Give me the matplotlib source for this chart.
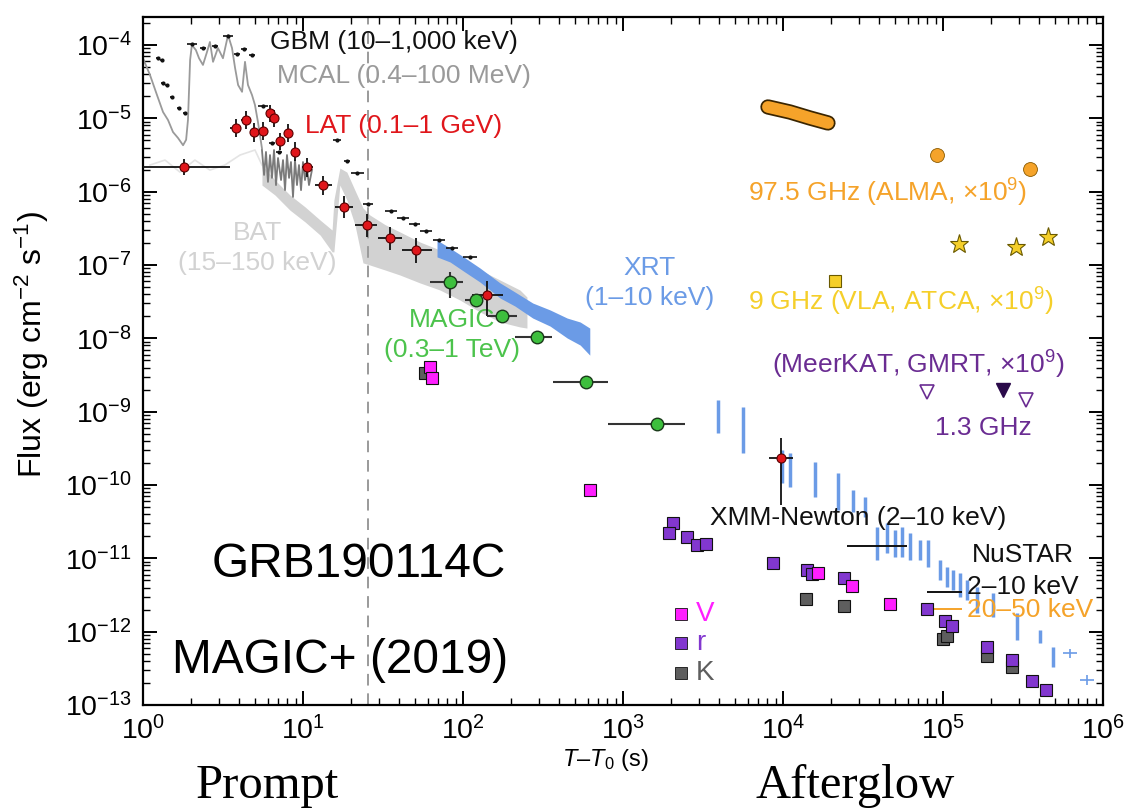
import numpy as np
import matplotlib
matplotlib.use("Agg")
import matplotlib.pyplot as plt
from matplotlib.ticker import LogLocator, NullFormatter, FixedLocator, LogFormatterSciNotation

plt.rcParams['font.family'] = ['Liberation Sans', 'DejaVu Sans']
plt.rcParams['mathtext.fontset'] = 'custom'
plt.rcParams['mathtext.rm'] = 'Liberation Sans'
plt.rcParams['mathtext.it'] = 'Liberation Sans:italic'
plt.rcParams['mathtext.default'] = 'regular'

# ---------------- data ----------------
# Fermi-LAT (0.1-1 GeV)
lat_t = [1.8, 3.8, 4.4, 4.94, 5.6, 6.2, 6.6, 7.2, 8.05, 8.9, 10.6, 13.3, 18.0, 25.0, 35.0, 51.0, 141.0, 9700.0]
lat_f = [2.2e-6, 7.4e-6, 9.5e-6, 6.5e-6, 6.7e-6, 1.17e-5, 1.0e-5, 4.9e-6, 6.3e-6, 3.5e-6,
         2.2e-6, 1.23e-6, 6.2e-7, 3.5e-7, 2.35e-7, 1.6e-7, 3.9e-8, 2.3e-10]
lat_tlo = [1.0, 3.5, 4.1, 4.7, 5.2, 6.0, 6.4, 6.9, 7.6, 8.5, 9.8, 11.9, 15.8, 21.1, 29.5, 41.5, 114.0, 8200.0]
lat_thi = [3.5, 4.1, 4.7, 5.2, 6.0, 6.4, 6.9, 7.6, 8.5, 9.5, 11.6, 15.2, 20.5, 29.0, 41.5, 64.0, 178.0, 11500.0]
lat_flo = [1.7e-6, 5.5e-6, 7.2e-6, 4.8e-6, 5.0e-6, 8.8e-6, 7.6e-6, 3.7e-6, 4.7e-6, 2.6e-6,
           1.6e-6, 9.0e-7, 4.4e-7, 2.4e-7, 1.6e-7, 1.05e-7, 2.0e-8, 5.3e-11]
lat_fhi = [2.8e-6, 9.8e-6, 1.25e-5, 8.6e-6, 8.8e-6, 1.5e-5, 1.3e-5, 6.4e-6, 8.3e-6, 4.7e-6,
           2.9e-6, 1.65e-6, 8.6e-7, 5.0e-7, 3.3e-7, 2.3e-7, 6.0e-8, 4.4e-10]

# Fermi-GBM (10-1,000 keV) binned points
gbm_t = [1.24, 1.31, 1.33, 1.41, 1.52, 1.68, 1.83, 2.02, 2.37, 2.82, 3.4, 3.87, 4.28, 4.8,
         5.62, 6.4, 7.08, 16.3, 18.8, 21.8, 25.5, 35.5, 42.2, 50.0, 58.7, 70.8, 85.3, 110.6]
gbm_f = [6.65e-5, 6.25e-5, 3.03e-5, 2.85e-5, 1.95e-5, 1.38e-5, 1.18e-5, 1.03e-4, 9.1e-5, 9.7e-5,
         1.33e-4, 7.55e-5, 8.8e-5, 7.3e-5, 1.48e-5, 4.6e-6, 3.5e-6, 5.1e-6, 2.6e-6, 1.8e-6,
         6.8e-7, 5.45e-7, 4.4e-7, 3.6e-7, 2.9e-7, 2.2e-7, 1.7e-7, 1.29e-7]
gbm_dt = [0.01, 0.01, 0.01, 0.01, 0.012, 0.015, 0.015, 0.03, 0.02, 0.02, 0.03, 0.02, 0.02, 0.02,
          0.03, 0.02, 0.02, 0.025, 0.02, 0.04, 0.03, 0.035, 0.035, 0.035, 0.035, 0.04, 0.04, 0.045]

# AGILE-MCAL (0.4-100 MeV) light curve
mcal_t = [1.0, 1.106, 1.223, 1.334, 1.433, 1.54, 1.655, 1.78, 1.86, 1.91, 1.97, 2.02, 2.14, 2.24,
          2.37, 2.51, 2.62, 2.74, 2.94, 3.16, 3.40, 3.60, 3.76, 3.93, 4.16, 4.34, 4.53, 4.80,
          5.01, 5.23, 5.54]
mcal_f = [6.6e-5, 3.9e-5, 2.08e-5, 1.22e-5, 9.5e-6, 6.5e-6, 5.4e-6, 4.3e-6, 5.1e-6, 9.5e-6,
          6.25e-5, 1.0e-4, 8.55e-5, 6.6e-5, 5.35e-5, 8.0e-5, 1.1e-4, 5.9e-5, 9.1e-5, 6.6e-5,
          1.37e-4, 9.1e-5, 4.9e-5, 2.85e-5, 2.3e-5, 5.9e-5, 2.85e-5, 2.08e-5, 1.52e-5, 8.9e-6, 3.9e-6]

# GBM light curve (noisy dark trace)
gbmlc_t = [5.54, 5.71, 5.87, 6.04, 6.22, 6.40, 6.59, 6.78, 6.98, 7.29, 7.50, 7.72, 7.94, 8.18,
           8.41, 8.66, 8.91, 9.17, 9.44, 9.72, 10.0, 10.29, 10.59, 10.9, 11.38]
gbmlc_f = [3.7e-6, 1.69e-6, 3.48e-6, 1.36e-6, 3.16e-6, 1.54e-6, 3.7e-6, 1.23e-6, 2.88e-6, 1.44e-6,
           2.7e-6, 1.05e-6, 3.16e-6, 1.54e-6, 2.54e-6, 8.47e-7, 2.7e-6, 1.23e-6, 2.31e-6, 1.05e-6,
           2.54e-6, 1.44e-6, 2.1e-6, 1.23e-6, 1.98e-6]

# Swift-BAT (15-150 keV)
bat_early_t = [1.106, 1.373, 1.70, 2.11, 2.62, 3.25, 4.04, 5.01, 5.54]
bat_early_f = [2.31e-6, 2.7e-6, 1.85e-6, 2.7e-6, 1.97e-6, 2.31e-6, 3.16e-6, 3.7e-6, 2.31e-6]
bat_t = [5.54, 6.68, 8.29, 10.3, 12.8, 15.2, 15.6, 17.0, 18.8, 21.1, 23.7, 26.2, 32.6, 40.4,
         53.8, 71.8, 95.7, 127.7, 170.4, 227.0, 251.0]
bat_hi = [2.31e-6, 1.44e-6, 9.0e-7, 6.2e-7, 4.1e-7, 3.0e-7, 7.7e-7, 2.1e-6, 1.85e-6, 1.05e-6,
          6.0e-7, 4.8e-7, 3.55e-7, 2.82e-7, 2.06e-7, 1.6e-7, 1.1e-7, 8.55e-8, 6.24e-8, 4.56e-8, 3.66e-8]
bat_lo = [1.23e-6, 9.0e-7, 5.6e-7, 3.87e-7, 2.56e-7, 1.51e-7, 1.51e-7, 1.23e-6, 7.7e-7, 3.55e-7,
          1.07e-7, 1.0e-7, 8.55e-8, 7.3e-8, 5.7e-8, 4.56e-8, 3.33e-8, 2.29e-8, 1.67e-8, 1.43e-8, 1.38e-8]

# Swift-XRT (1-10 keV)
xrt_t = [68.8, 83.0, 103.0, 127.7, 170.4, 211.0, 273.0, 350.0, 448.0, 540.0, 620.0]
xrt_hi = [2.19e-7, 1.7e-7, 1.25e-7, 9.1e-8, 5.7e-8, 4.29e-8, 3.03e-8, 2.44e-8, 1.89e-8, 1.67e-8, 1.38e-8]
xrt_lo = [1.29e-7, 1.1e-7, 8.0e-8, 5.86e-8, 3.55e-8, 2.76e-8, 1.89e-8, 1.47e-8, 1.01e-8, 8.1e-9, 5.9e-9]
xrt_late_t = [3.9e3, 5.62e3, 9.86e3, 1.11e4, 1.58e4, 2.21e4, 2.74e4, 3.25e4, 3.87e4, 4.47e4,
              5.01e4, 5.55e4, 6.22e4, 7.18e4, 8.06e4, 9.56e4, 1.06e5, 1.155e5, 1.28e5, 1.41e5,
              1.63e5, 2.05e5, 2.9e5, 4.04e5, 4.87e5]
xrt_late_hi = [1.44e-9, 1.16e-9, 3.0e-10, 2.7e-10, 2.06e-10, 1.46e-10, 8.5e-11, 6.9e-11, 2.67e-11,
               3.0e-11, 2.43e-11, 2.67e-11, 2.2e-11, 1.78e-11, 1.78e-11, 9.5e-12, 7.6e-12, 6.9e-12,
               6.3e-12, 5.1e-12, 4.1e-12, 3.4e-12, 1.8e-12, 1.05e-12, 6.2e-13]
xrt_late_lo = [5.1e-10, 2.7e-10, 1.06e-10, 9.4e-11, 6.9e-11, 4.6e-11, 4.3e-11, 3.7e-11, 9.5e-12,
               1.18e-11, 1.04e-11, 1.04e-11, 9.5e-12, 9.5e-12, 7.6e-12, 5.1e-12, 4.1e-12, 3.7e-12,
               3.0e-12, 2.7e-12, 1.8e-12, 1.58e-12, 7.7e-13, 7.0e-13, 3.3e-13]
xrt_plus_t = [6.22e5, 7.94e5]
xrt_plus_f = [5.1e-13, 2.2e-13]

# MAGIC (0.3-1 TeV)
magic_t = [83.0, 120.5, 175.0, 290.0, 587.0, 1631.0]
magic_f = [5.86e-8, 3.33e-8, 2.02e-8, 1.04e-8, 2.54e-9, 6.8e-10]
magic_tlo = [62.0, 103.0, 141.0, 211.0, 365.0, 806.0]
magic_thi = [100.0, 133.0, 218.0, 360.0, 806.0, 2441.0]
magic_flo = [3.6e-8, 2.7e-8, 1.7e-8, 8.8e-9, 2.2e-9, 5.6e-10]
magic_fhi = [8.0e-8, 4.0e-8, 2.4e-8, 1.2e-8, 2.9e-9, 8.2e-10]

# XMM-Newton and NuSTAR
xmm_t, xmm_f, xmm_tlo, xmm_thi = [3.87e4], [1.47e-11], [2.5e4], [5.96e4]
nus_t = [1.03e5]
nus_soft_f, nus_hard_f = [3.47e-12], [2.04e-12]
nus_tlo, nus_thi = [7.9e4], [1.31e5]

# Radio / mm (x1e9)
alma_curve_t = [8054.0, 11060.0, 14750.0, 19100.0]
alma_curve_f = [1.43e-5, 1.22e-5, 1.01e-5, 8.65e-6]
alma_t = [9.17e4, 3.5e5]
alma_f = [3.16e-6, 2.04e-6]
vla_sq_t, vla_sq_f = [2.113e4], [6.05e-8]
atca_t = [1.26e5, 2.86e5, 4.53e5]
atca_f = [1.94e-7, 1.76e-7, 2.41e-7]
meer_open_t = [7.94e4, 3.3e5]
meer_open_f = [1.85e-9, 1.44e-9]
meer_fill_t, meer_fill_f = [2.37e5], [1.98e-9]

# Optical / NIR
v_t = [62.2, 64.0, 622.0, 16550.0, 26980.0, 46670.0]
v_f = [4.06e-9, 2.88e-9, 8.55e-11, 6.3e-12, 4.2e-12, 2.38e-12]
r_t = [2053, 1939, 2512, 2900, 3303, 8660, 14125, 15170, 24050, 79430, 1.03e5, 1.14e5,
       1.88e5, 2.70e5, 3.6e5, 4.4e5]
r_f = [3.03e-11, 2.22e-11, 1.95e-11, 1.52e-11, 1.57e-11, 8.6e-12, 6.9e-12, 6.1e-12, 5.4e-12,
       2.04e-12, 1.40e-12, 1.19e-12, 6.2e-13, 4.1e-13, 2.1e-13, 1.6e-13]
k_t = [57.9, 13930, 24050, 1.0e5, 1.06e5, 1.88e5, 2.70e5]
k_f = [3.37e-9, 2.79e-12, 2.24e-12, 7.9e-13, 8.7e-13, 4.66e-13, 3.3e-13]

t_dash = 25.5
x_major = [1e0, 1e1, 1e2, 1e3, 1e4, 1e5, 1e6]
y_major = [1e-13, 1e-12, 1e-11, 1e-10, 1e-9, 1e-8, 1e-7, 1e-6, 1e-5, 1e-4]

# ---------------- colours ----------------
C_LAT = '#e0161b'
C_MAGIC = '#3dbf3d'
C_MAGIC_TXT = '#4cc34c'
C_XRT = '#6b9be6'
C_ALMA = '#f5a32a'
C_VLA = '#f5cf2a'
C_MEER = '#6a2c92'
C_V = '#ff1fff'
C_R = '#8237cf'
C_K = '#5e5e5e'

fig = plt.figure(figsize=(11.27, 8.11), dpi=100)
ax = fig.add_axes([143/1127, 1-705/811, 960/1127, 688/811])
ax.set_xscale('log')
ax.set_yscale('log')
ax.set_xlim(1, 1e6)
ax.set_ylim(1e-13, 2.41e-4)

# BAT
ax.plot(bat_early_t, bat_early_f, color='#e4e4e4', lw=1.2, zorder=1)
ax.fill_between(bat_t, bat_lo, bat_hi, color='#d2d2d2', lw=0, zorder=1)
# MCAL
ax.plot(mcal_t, mcal_f, color='#9a9a9a', lw=1.3, zorder=2)
# GBM LC
ax.plot(gbmlc_t, gbmlc_f, color='#7a7a7a', lw=1.3, zorder=2)
# XRT
ax.fill_between(xrt_t, xrt_lo, xrt_hi, color=C_XRT, lw=0, zorder=2)
ax.vlines(xrt_late_t, xrt_late_lo, xrt_late_hi, color=C_XRT, lw=2.5, zorder=2)
ax.errorbar(xrt_plus_t, xrt_plus_f,
            xerr=[[pt * 0.1 for pt in xrt_plus_t], [pt * 0.1 for pt in xrt_plus_t]],
            yerr=[[f * 0.15 for f in xrt_plus_f], [f * 0.15 for f in xrt_plus_f]],
            fmt='none', ecolor=C_XRT, elinewidth=1.2, zorder=2)

# dashed line
ax.axvline(t_dash, color='#9a9a9a', ls=(0, (6, 4)), lw=1.4, zorder=1)

# GBM points
gbm_xerr = [[t - t / 10**d for t, d in zip(gbm_t, gbm_dt)],
            [t * 10**d - t for t, d in zip(gbm_t, gbm_dt)]]
ax.errorbar(gbm_t, gbm_f, xerr=gbm_xerr, fmt='o', ms=2, color='#111111',
            ecolor='#111111', elinewidth=1.2, zorder=4)

# LAT
ax.errorbar(lat_t, lat_f,
            xerr=[np.subtract(lat_t, lat_tlo), np.subtract(lat_thi, lat_t)],
            yerr=[np.subtract(lat_f, lat_flo), np.subtract(lat_fhi, lat_f)],
            fmt='o', ms=6.5, mfc=C_LAT, mec='#5a0000', mew=0.8,
            ecolor='#111111', elinewidth=1.3, zorder=5)

# MAGIC
ax.errorbar(magic_t, magic_f,
            xerr=[np.subtract(magic_t, magic_tlo), np.subtract(magic_thi, magic_t)],
            yerr=[np.subtract(magic_f, magic_flo), np.subtract(magic_fhi, magic_f)],
            fmt='o', ms=9, mfc=C_MAGIC, mec='#1a3a1a', mew=1.0,
            ecolor='#333333', elinewidth=1.5, zorder=5)

# XMM / NuSTAR
ax.errorbar(xmm_t, xmm_f, xerr=[np.subtract(xmm_t, xmm_tlo), np.subtract(xmm_thi, xmm_t)],
            fmt='none', ecolor='#111111', elinewidth=1.4, zorder=5)
ax.errorbar(nus_t, nus_soft_f, xerr=[np.subtract(nus_t, nus_tlo), np.subtract(nus_thi, nus_t)],
            fmt='none', ecolor='#111111', elinewidth=1.4, zorder=5)
ax.errorbar(nus_t, nus_hard_f, xerr=[np.subtract(nus_t, nus_tlo), np.subtract(nus_thi, nus_t)],
            fmt='none', ecolor=C_ALMA, elinewidth=1.4, zorder=5)

# ALMA
ax.plot(alma_curve_t, alma_curve_f, color='#3a2500', lw=11, solid_capstyle='round', zorder=5)
ax.plot(alma_curve_t, alma_curve_f, color=C_ALMA, lw=8.5, solid_capstyle='round', zorder=6)
ax.plot(alma_t, alma_f, 'o', ms=10, mfc=C_ALMA, mec='#8a5a00', mew=0.6, zorder=6)
# VLA / ATCA
ax.plot(vla_sq_t, vla_sq_f, 's', ms=8, mfc=C_VLA, mec='#6a5a00', mew=0.8, zorder=6)
ax.plot(atca_t, atca_f, '*', ms=14, mfc=C_VLA, mec='#6a5a00', mew=0.8, zorder=6)
# MeerKAT / GMRT
ax.plot(meer_open_t, meer_open_f, 'v', ms=10, mfc='white', mec=C_MEER, mew=1.2, zorder=6)
ax.plot(meer_fill_t, meer_fill_f, 'v', ms=10, mfc='#2a0a4a', mec='#2a0a4a', mew=1.0, zorder=6)

# Optical
ax.plot(k_t, k_f, 's', ms=9, mfc=C_K, mec='#111111', mew=0.8, zorder=7)
ax.plot(r_t, r_f, 's', ms=9, mfc=C_R, mec='#111111', mew=0.8, zorder=7)
ax.plot(v_t, v_f, 's', ms=9, mfc=C_V, mec='#111111', mew=0.8, zorder=8)

# ---------------- axes styling ----------------
for s in ax.spines.values():
    s.set_linewidth(1.6)
ax.tick_params(which='both', direction='in', top=True, right=True)
ax.tick_params(which='major', length=10, width=1.4, labelsize=20.5, pad=8)
ax.tick_params(which='minor', length=5, width=1.0)
ax.xaxis.set_major_locator(FixedLocator(x_major))
ax.yaxis.set_major_locator(FixedLocator(y_major))
ax.xaxis.set_major_formatter(LogFormatterSciNotation())
ax.yaxis.set_major_formatter(LogFormatterSciNotation())
ax.yaxis.set_minor_locator(LogLocator(base=10, subs=np.arange(2, 10), numticks=200))
ax.yaxis.set_minor_formatter(NullFormatter())
ax.xaxis.set_minor_locator(LogLocator(base=10, subs=np.arange(2, 10), numticks=200))
ax.xaxis.set_minor_formatter(NullFormatter())

# ---------------- texts ----------------
fs = 19
tk = dict(transform=ax.transAxes, fontsize=fs, va='center')
ax.text(0.1323, 0.9637, 'GBM (10–1,000 keV)', color='#111111', ha='left', **tk)
ax.text(0.1396, 0.9142, 'MCAL (0.4–100 MeV)', color='#9a9a9a', ha='left', **tk)
ax.text(0.1688, 0.8416, 'LAT (0.1–1 GeV)', color=C_LAT, ha='left', **tk)
ax.text(0.1188, 0.6642, 'BAT\n(15–150 keV)', color='#d2d2d2', ha='center',
        linespacing=1.3, multialignment='center', **tk)
ax.text(0.3219, 0.5378, 'MAGIC\n(0.3–1 TeV)', color=C_MAGIC_TXT, ha='center',
        linespacing=1.3, multialignment='center', **tk)
ax.text(0.5281, 0.6134, 'XRT\n(1–10 keV)', color=C_XRT, ha='center',
        linespacing=1.3, multialignment='center', **tk)
ax.text(0.6302, 0.7442, '97.5 GHz (ALMA, ×10$^{9}$)', color=C_ALMA, ha='left', **tk)
ax.text(0.6302, 0.5858, '9 GHz (VLA, ATCA, ×10$^{9}$)', color=C_VLA, ha='left', **tk)
ax.text(0.6552, 0.4942, '(MeerKAT, GMRT, ×10$^{9}$)', color=C_MEER, ha='left', **tk)
ax.text(0.8250, 0.4026, '1.3 GHz', color=C_MEER, ha='left', **tk)
ax.text(0.5906, 0.2718, 'XMM-Newton (2–10 keV)', color='#111111', ha='left', **tk)
ax.text(0.8635, 0.2180, 'NuSTAR', color='#111111', ha='left', **tk)
ax.text(0.8583, 0.1715, '2–10 keV', color='#111111', ha='left', **tk)
ax.text(0.8583, 0.1381, '20–50 keV', color=C_ALMA, ha='left', **tk)

# V r K key
for yk, col, lab in [(0.1323, C_V, 'V'), (0.0901, C_R, 'r'), (0.0465, C_K, 'K')]:
    ax.plot([0.5604], [yk], 's', ms=8, mfc=col, mec='#111111', mew=0.6,
            transform=ax.transAxes, clip_on=False, zorder=8)
    ax.text(0.5760, yk, lab, color=col, ha='left', transform=ax.transAxes,
            fontsize=20, va='center')

ax.text(0.0719, 0.2035, 'GRB190114C', color='black', ha='left', va='center',
        transform=ax.transAxes, fontsize=34.5)
ax.text(0.0302, 0.0654, 'MAGIC+ (2019)', color='black', ha='left', va='center',
        transform=ax.transAxes, fontsize=34.5)

fig.text(32/1127, 1-345/811, 'Flux (erg cm$^{-2}$ s$^{-1}$)', rotation=90,
         ha='center', va='center', fontsize=23)
fig.text(605/1127, 1-760/811, '$\\mathit{T}$–$\\mathit{T}_{0}$ (s)', ha='center', va='center', fontsize=17)
fig.text(267/1127, 1-786/811, 'Prompt', ha='center', va='center', fontsize=35,
         family='Liberation Serif')
fig.text(855/1127, 1-786/811, 'Afterglow', ha='center', va='center', fontsize=35,
         family='Liberation Serif')

fig.savefig('out.png', dpi=100)
